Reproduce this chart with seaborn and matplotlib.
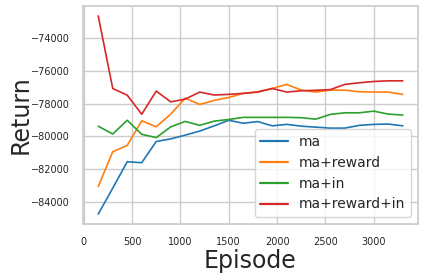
import pandas as pd
import matplotlib
matplotlib.use("Agg")
import matplotlib.pyplot as plt
import seaborn as sns

episodes = [150, 300, 450, 600, 750, 900, 1050, 1200, 1350, 1500, 1650,
            1800, 1950, 2100, 2250, 2400, 2550, 2700, 2850, 3000, 3150, 3300]

ma = [-84770, -83180, -81560, -81620, -80320, -80160, -79930, -79680, -79360, -79020, -79200,
      -79100, -79360, -79270, -79380, -79440, -79500, -79500, -79330, -79270, -79250, -79360]
ma_reward = [-83080, -80950, -80560, -79050, -79420, -78640, -77660, -78050, -77800, -77620, -77370,
             -77270, -77070, -76820, -77170, -77290, -77170, -77170, -77270, -77290, -77290, -77430]
ma_in = [-79380, -79860, -79020, -79880, -80080, -79420, -79090, -79330, -79070, -78970, -78840,
         -78840, -78840, -78840, -78860, -78950, -78660, -78560, -78560, -78460, -78640, -78700]
ma_reward_in = [-72620, -77070, -77480, -78650, -77230, -77890, -77720, -77290, -77470, -77430, -77370,
                -77290, -77070, -77290, -77210, -77180, -77140, -76820, -76720, -76640, -76600, -76600]

labels = ["ma", "ma+reward", "ma+in", "ma+reward+in"]
series = [ma, ma_reward, ma_in, ma_reward_in]

rows = []
for name, vals in zip(labels, series):
    for ep, v in zip(episodes, vals):
        rows.append({"Episode": ep, "Return": v, "method": name})
df = pd.DataFrame(rows)

sns.set_theme(style="whitegrid")
plt.rcParams["font.family"] = ["DejaVu Sans"]

fig = plt.figure(figsize=(4.24, 2.76), dpi=100)
ax = fig.add_axes([83 / 424, 1 - 224 / 276, (418 - 83) / 424, (224 - 6) / 276])

sns.lineplot(data=df, x="Episode", y="Return", hue="method", hue_order=labels,
             palette="tab10", linewidth=1.2, ax=ax)

ax.tick_params(labelsize=7)
ax.set_xlabel("Episode", fontsize=17, labelpad=1.5)
ax.set_ylabel("Return", fontsize=17, labelpad=-1)
ax.set_xticks([0, 500, 1000, 1500, 2000, 2500, 3000])
ax.set_yticks([-84000, -82000, -80000, -78000, -76000, -74000])
leg = ax.legend(loc="lower right", fontsize=10)
for line in leg.get_lines():
    line.set_linewidth(1.6)

fig.savefig("out.png", dpi=100)
plt.close()
